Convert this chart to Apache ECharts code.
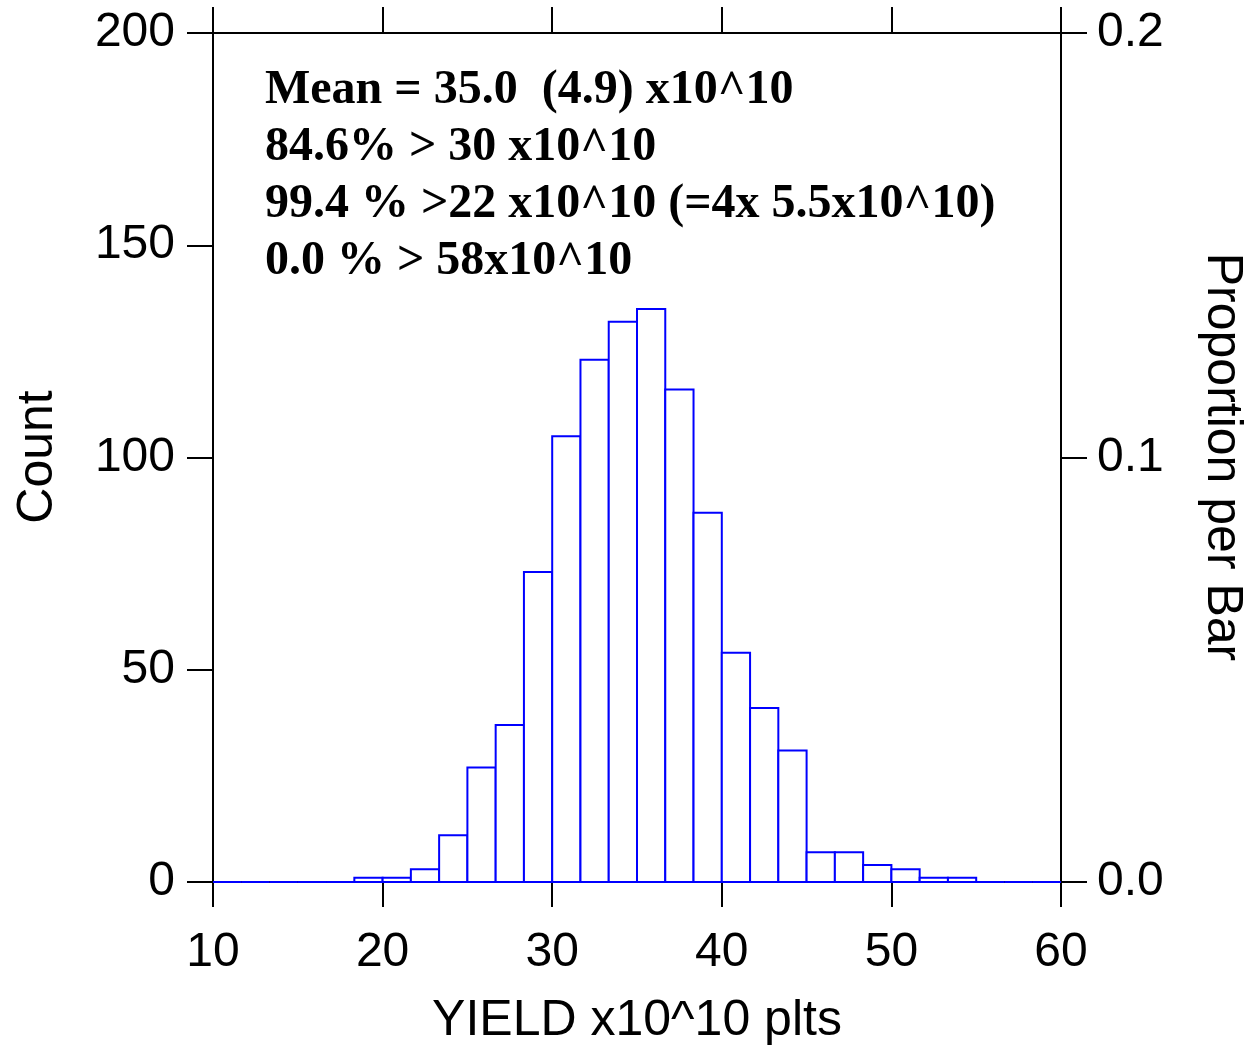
<!DOCTYPE html>
<html>
<head>
<meta charset="utf-8">
<script src="https://cdn.jsdelivr.net/npm/echarts@6/dist/echarts.min.js"></script>
<style>
html,body{margin:0;padding:0;background:#fff;}
#chart{width:1248px;height:1048px;}
</style>
</head>
<body>
<div id="chart"></div>
<script>
// Bin edges (YIELD x10^10 plts), 30 bins of width 5/3 from 10 to 60
const binEdges = [10, 11.6667, 13.3333, 15, 16.6667, 18.3333, 20, 21.6667, 23.3333, 25,
  26.6667, 28.3333, 30, 31.6667, 33.3333, 35, 36.6667, 38.3333, 40, 41.6667,
  43.3333, 45, 46.6667, 48.3333, 50, 51.6667, 53.3333, 55, 56.6667, 58.3333, 60];
// Count per bin
const counts = [0, 0, 0, 0, 0, 1, 1, 3, 11, 27,
  37, 73, 105, 123, 132, 135, 116, 87, 54, 41,
  31, 7, 7, 4, 3, 1, 1, 0, 0, 0];
const xTicks = [10, 20, 30, 40, 50, 60];
const countTicks = [0, 50, 100, 150, 200];
const propTicks = [0.0, 0.1, 0.2];
const infoLines = [
  'Mean = 35.0  (4.9) x10^10',
  '84.6% > 30 x10^10',
  '99.4 % >22 x10^10 (=4x 5.5x10^10)',
  '0.0 % > 58x10^10'
];
const xTitle = 'YIELD x10^10 plts';
const yTitle = 'Count';
const y2Title = 'Proportion per Bar';

const sans = "'Liberation Sans', Arial, sans-serif";
const serif = "'Liberation Serif', 'Times New Roman', serif";

const histData = counts.map((c, i) => [binEdges[i], binEdges[i + 1], c]);

const axisLineStyle = {color: '#000', width: 2};
const chart = echarts.init(document.getElementById('chart'), null, {renderer: 'canvas'});

const option = {
  animation: false,
  backgroundColor: '#fff',
  grid: {left: 213, right: 187, top: 33, bottom: 166, containLabel: false},
  xAxis: [
    {
      type: 'value', min: xTicks[0], max: xTicks[xTicks.length - 1], interval: 10,
      position: 'bottom',
      axisLine: {show: true, onZero: false, lineStyle: axisLineStyle},
      axisTick: {show: true, inside: false, length: 25, lineStyle: axisLineStyle},
      axisLabel: {show: true, fontSize: 48, fontFamily: sans, color: '#000', margin: 47},
      splitLine: {show: false}
    },
    {
      type: 'value', min: xTicks[0], max: xTicks[xTicks.length - 1], interval: 10,
      position: 'top',
      axisLine: {show: true, onZero: false, lineStyle: axisLineStyle},
      axisTick: {show: true, inside: false, length: 26, lineStyle: axisLineStyle},
      axisLabel: {show: false},
      splitLine: {show: false}
    }
  ],
  yAxis: [
    {
      type: 'value', min: countTicks[0], max: countTicks[countTicks.length - 1], interval: 50,
      position: 'left',
      axisLine: {show: true, onZero: false, lineStyle: axisLineStyle},
      axisTick: {show: true, inside: false, length: 26, lineStyle: axisLineStyle},
      axisLabel: {show: true, fontSize: 48, fontFamily: sans, color: '#000', margin: 38},
      splitLine: {show: false}
    },
    {
      type: 'value', min: propTicks[0], max: propTicks[propTicks.length - 1], interval: 0.1,
      position: 'right',
      axisLine: {show: true, onZero: false, lineStyle: axisLineStyle},
      axisTick: {show: true, inside: false, length: 26, lineStyle: axisLineStyle},
      axisLabel: {show: true, fontSize: 48, fontFamily: sans, color: '#000', margin: 36,
        formatter: v => v.toFixed(1)},
      splitLine: {show: false}
    }
  ],
  series: [
    {
      type: 'custom',
      xAxisIndex: 0,
      yAxisIndex: 0,
      data: histData,
      encode: {x: [0, 1], y: 2},
      renderItem: function (params, api) {
        const s = api.value(0), e = api.value(1), c = api.value(2);
        const p0 = api.coord([s, c]);
        const p1 = api.coord([e, 0]);
        return {
          type: 'rect',
          shape: {x: p0[0], y: p0[1], width: p1[0] - p0[0], height: p1[1] - p0[1]},
          style: {fill: '#fff', stroke: '#0000ff', lineWidth: 2}
        };
      }
    }
  ],
  graphic: [
    ...infoLines.map((t, i) => ({
      type: 'text', left: 265, top: 67 + i * 57, z: 100,
      style: {text: t, font: 'bold 48px ' + serif, fill: '#000'}
    })),
    {
      type: 'text', x: 637, y: 1021, z: 100,
      style: {text: xTitle, font: '50px ' + sans, fill: '#000', align: 'center', verticalAlign: 'middle'}
    },
    {
      type: 'text', x: 38, y: 457, rotation: Math.PI / 2, z: 100,
      style: {text: yTitle, font: '50px ' + sans, fill: '#000', align: 'center', verticalAlign: 'middle'}
    },
    {
      type: 'text', x: 1222, y: 457, rotation: -Math.PI / 2, z: 100,
      style: {text: y2Title, font: '50px ' + sans, fill: '#000', align: 'center', verticalAlign: 'middle'}
    }
  ]
};
chart.setOption(option);
</script>
</body>
</html>
